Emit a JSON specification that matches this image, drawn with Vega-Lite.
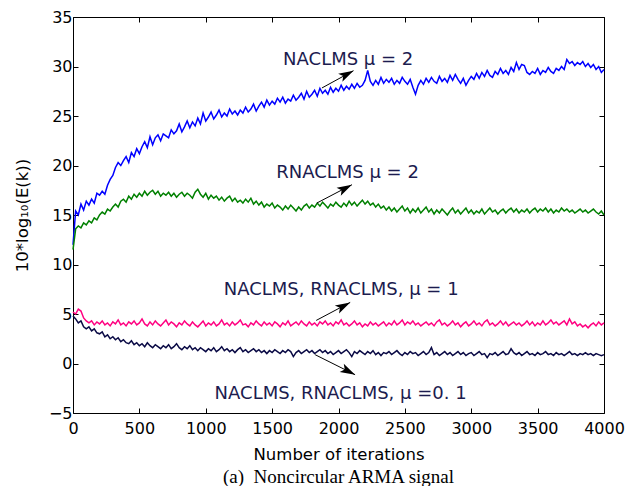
{
  "$schema": "https://vega.github.io/schema/vega-lite/v6.json",
  "width": 531,
  "height": 396,
  "autosize": {"type": "none"},
  "padding": {"left": 73, "top": 17, "right": 24, "bottom": 73},
  "background": "white",
  "config": {
    "view": {"stroke": "black", "strokeWidth": 1},
    "axis": {
      "grid": false,
      "domain": false,
      "tickColor": "black",
      "tickSize": -5,
      "labelFont": "DejaVu Sans",
      "labelFontSize": 16,
      "labelColor": "black",
      "labelFlush": false,
      "labelOverlap": false,
      "format": "d",
      "titleFont": "DejaVu Sans",
      "titleFontSize": 16.5,
      "titleFontWeight": "normal",
      "titleColor": "black"
    }
  },
  "title": {
    "text": "(a)\u00a0 Noncircular ARMA signal",
    "orient": "bottom",
    "anchor": "middle",
    "font": "Liberation Serif",
    "fontSize": 19,
    "fontWeight": "normal",
    "color": "black",
    "offset": 5
  },
  "datasets": {
    "curves": [
      {"k":0,"b":12.0,"g":11.5,"p":5.2,"n":4.8},
      {"k":20,"b":15.4,"g":13.6,"p":5.0,"n":4.5},
      {"k":40,"b":15.0,"g":13.9,"p":5.5,"n":4.1},
      {"k":60,"b":16.1,"g":13.7,"p":5.3,"n":4.3},
      {"k":80,"b":15.5,"g":14.2,"p":4.6,"n":3.7},
      {"k":100,"b":16.4,"g":14.0,"p":4.3,"n":3.5},
      {"k":120,"b":16.0,"g":14.4,"p":4.1,"n":3.7},
      {"k":140,"b":16.6,"g":14.2,"p":4.3,"n":3.3},
      {"k":160,"b":16.2,"g":14.7,"p":3.9,"n":3.5},
      {"k":180,"b":17.2,"g":14.5,"p":4.2,"n":3.1},
      {"k":200,"b":17.0,"g":15.0,"p":4.0,"n":3.0},
      {"k":220,"b":17.4,"g":15.3,"p":4.3,"n":3.2},
      {"k":240,"b":17.1,"g":15.1,"p":3.9,"n":2.7},
      {"k":260,"b":18.0,"g":15.6,"p":4.1,"n":2.9},
      {"k":280,"b":18.6,"g":15.4,"p":3.8,"n":2.5},
      {"k":300,"b":19.0,"g":15.8,"p":4.2,"n":2.7},
      {"k":320,"b":19.8,"g":16.1,"p":4.0,"n":2.4},
      {"k":340,"b":20.3,"g":15.8,"p":4.4,"n":2.6},
      {"k":360,"b":20.0,"g":16.4,"p":3.9,"n":2.2},
      {"k":380,"b":20.5,"g":16.6,"p":4.1,"n":2.4},
      {"k":400,"b":20.9,"g":16.3,"p":3.8,"n":2.1},
      {"k":420,"b":20.3,"g":16.9,"p":4.2,"n":2.0},
      {"k":440,"b":21.3,"g":16.6,"p":4.0,"n":2.3},
      {"k":460,"b":20.9,"g":17.1,"p":4.3,"n":1.9},
      {"k":480,"b":21.7,"g":16.8,"p":3.9,"n":2.1},
      {"k":500,"b":21.2,"g":17.2,"p":4.1,"n":1.8},
      {"k":520,"b":21.9,"g":16.9,"p":4.5,"n":2.0},
      {"k":540,"b":22.4,"g":17.4,"p":4.0,"n":1.7},
      {"k":560,"b":21.8,"g":17.0,"p":3.8,"n":2.1},
      {"k":580,"b":22.9,"g":17.3,"p":4.2,"n":1.8},
      {"k":600,"b":22.1,"g":17.5,"p":3.9,"n":1.6},
      {"k":620,"b":22.8,"g":17.1,"p":4.3,"n":1.9},
      {"k":640,"b":23.1,"g":17.4,"p":4.0,"n":1.7},
      {"k":660,"b":22.5,"g":16.9,"p":3.8,"n":1.5},
      {"k":680,"b":23.2,"g":17.2,"p":4.1,"n":1.8},
      {"k":700,"b":23.0,"g":17.0,"p":4.4,"n":1.6},
      {"k":720,"b":22.8,"g":17.3,"p":3.9,"n":1.9},
      {"k":740,"b":23.6,"g":16.9,"p":4.2,"n":1.5},
      {"k":760,"b":23.2,"g":17.2,"p":4.0,"n":1.7},
      {"k":780,"b":23.5,"g":16.8,"p":3.7,"n":2.0},
      {"k":800,"b":24.2,"g":17.1,"p":4.1,"n":1.6},
      {"k":820,"b":23.4,"g":17.3,"p":3.9,"n":1.4},
      {"k":840,"b":23.9,"g":16.9,"p":4.3,"n":1.7},
      {"k":860,"b":24.5,"g":17.2,"p":4.0,"n":1.5},
      {"k":880,"b":23.8,"g":17.0,"p":3.8,"n":1.8},
      {"k":900,"b":24.4,"g":16.7,"p":4.2,"n":1.4},
      {"k":920,"b":24.0,"g":17.3,"p":3.9,"n":1.6},
      {"k":940,"b":24.8,"g":17.6,"p":3.7,"n":1.3},
      {"k":960,"b":24.2,"g":17.1,"p":4.0,"n":1.6},
      {"k":980,"b":25.3,"g":16.8,"p":4.3,"n":1.4},
      {"k":1000,"b":24.5,"g":17.2,"p":3.8,"n":1.2},
      {"k":1020,"b":24.9,"g":16.6,"p":4.1,"n":1.5},
      {"k":1040,"b":25.4,"g":17.0,"p":3.9,"n":1.3},
      {"k":1060,"b":24.7,"g":16.7,"p":4.2,"n":1.6},
      {"k":1080,"b":25.1,"g":16.9,"p":3.8,"n":1.2},
      {"k":1100,"b":25.6,"g":16.5,"p":4.0,"n":1.4},
      {"k":1120,"b":24.9,"g":16.8,"p":4.4,"n":1.7},
      {"k":1140,"b":25.3,"g":16.4,"p":3.9,"n":1.3},
      {"k":1160,"b":25.0,"g":16.7,"p":4.1,"n":1.5},
      {"k":1180,"b":25.7,"g":16.9,"p":3.8,"n":1.2},
      {"k":1200,"b":25.2,"g":16.4,"p":4.2,"n":1.4},
      {"k":1220,"b":25.5,"g":16.7,"p":3.9,"n":1.1},
      {"k":1240,"b":25.1,"g":16.3,"p":4.1,"n":1.4},
      {"k":1260,"b":25.6,"g":16.5,"p":4.4,"n":1.6},
      {"k":1280,"b":25.3,"g":16.2,"p":3.9,"n":1.2},
      {"k":1300,"b":25.9,"g":16.6,"p":4.0,"n":1.4},
      {"k":1320,"b":25.4,"g":16.3,"p":3.7,"n":1.1},
      {"k":1340,"b":25.7,"g":16.7,"p":4.1,"n":1.3},
      {"k":1360,"b":26.2,"g":16.1,"p":3.9,"n":1.5},
      {"k":1380,"b":25.5,"g":16.4,"p":4.3,"n":1.2},
      {"k":1400,"b":26.0,"g":16.0,"p":4.0,"n":1.4},
      {"k":1420,"b":26.4,"g":16.3,"p":3.8,"n":1.1},
      {"k":1440,"b":25.9,"g":15.8,"p":4.2,"n":1.3},
      {"k":1460,"b":26.6,"g":16.1,"p":3.9,"n":1.0},
      {"k":1480,"b":26.1,"g":15.9,"p":4.1,"n":1.3},
      {"k":1500,"b":26.5,"g":16.2,"p":3.8,"n":1.1},
      {"k":1520,"b":26.2,"g":15.7,"p":4.2,"n":1.4},
      {"k":1540,"b":26.8,"g":16.0,"p":4.0,"n":1.2},
      {"k":1560,"b":26.4,"g":15.8,"p":3.7,"n":1.0},
      {"k":1580,"b":26.9,"g":15.5,"p":4.1,"n":1.3},
      {"k":1600,"b":26.3,"g":15.9,"p":3.9,"n":1.1},
      {"k":1620,"b":26.7,"g":15.6,"p":4.3,"n":1.4},
      {"k":1640,"b":26.5,"g":16.0,"p":3.8,"n":1.2},
      {"k":1660,"b":27.1,"g":15.7,"p":4.0,"n":0.7},
      {"k":1680,"b":26.6,"g":15.4,"p":4.2,"n":1.1},
      {"k":1700,"b":26.9,"g":15.8,"p":3.9,"n":1.3},
      {"k":1720,"b":27.3,"g":15.5,"p":4.3,"n":1.0},
      {"k":1740,"b":26.7,"g":15.9,"p":4.0,"n":1.2},
      {"k":1760,"b":27.5,"g":16.1,"p":3.8,"n":1.4},
      {"k":1780,"b":26.9,"g":15.7,"p":4.2,"n":1.1},
      {"k":1800,"b":27.2,"g":16.0,"p":3.9,"n":1.3},
      {"k":1820,"b":27.6,"g":15.8,"p":4.1,"n":1.0},
      {"k":1840,"b":27.0,"g":16.2,"p":3.8,"n":1.2},
      {"k":1860,"b":27.8,"g":15.9,"p":4.2,"n":1.4},
      {"k":1880,"b":27.3,"g":16.3,"p":4.0,"n":1.1},
      {"k":1900,"b":27.6,"g":16.0,"p":4.3,"n":1.3},
      {"k":1920,"b":27.2,"g":15.7,"p":3.9,"n":1.0},
      {"k":1940,"b":27.9,"g":16.1,"p":4.1,"n":1.2},
      {"k":1960,"b":27.4,"g":15.9,"p":3.8,"n":0.9},
      {"k":1980,"b":27.8,"g":16.3,"p":4.2,"n":1.1},
      {"k":2000,"b":27.5,"g":16.0,"p":4.0,"n":1.3},
      {"k":2020,"b":28.1,"g":15.8,"p":4.4,"n":1.0},
      {"k":2040,"b":27.6,"g":16.2,"p":3.9,"n":1.2},
      {"k":2060,"b":28.0,"g":15.9,"p":4.1,"n":1.4},
      {"k":2080,"b":27.7,"g":16.4,"p":3.8,"n":1.1},
      {"k":2100,"b":28.2,"g":16.0,"p":4.0,"n":0.7},
      {"k":2120,"b":27.8,"g":16.3,"p":4.3,"n":1.2},
      {"k":2140,"b":28.3,"g":15.9,"p":3.9,"n":1.0},
      {"k":2160,"b":27.9,"g":16.2,"p":4.1,"n":1.3},
      {"k":2180,"b":28.1,"g":16.5,"p":3.7,"n":1.1},
      {"k":2200,"b":28.6,"g":16.1,"p":4.0,"n":0.9},
      {"k":2220,"b":29.6,"g":16.4,"p":3.8,"n":1.2},
      {"k":2240,"b":28.5,"g":16.0,"p":4.2,"n":1.0},
      {"k":2260,"b":28.1,"g":16.2,"p":3.9,"n":1.3},
      {"k":2280,"b":28.6,"g":15.8,"p":4.1,"n":0.9},
      {"k":2300,"b":28.2,"g":16.1,"p":3.8,"n":1.1},
      {"k":2320,"b":28.9,"g":15.7,"p":4.0,"n":0.8},
      {"k":2340,"b":28.3,"g":15.9,"p":4.2,"n":1.1},
      {"k":2360,"b":28.7,"g":15.5,"p":3.8,"n":1.0},
      {"k":2380,"b":28.4,"g":15.8,"p":4.1,"n":1.2},
      {"k":2400,"b":28.8,"g":15.4,"p":3.9,"n":0.9},
      {"k":2420,"b":28.2,"g":15.7,"p":4.3,"n":1.1},
      {"k":2440,"b":28.6,"g":15.3,"p":3.9,"n":1.3},
      {"k":2460,"b":28.3,"g":15.6,"p":4.1,"n":1.0},
      {"k":2480,"b":28.9,"g":15.9,"p":4.4,"n":0.8},
      {"k":2500,"b":28.5,"g":15.4,"p":3.9,"n":1.1},
      {"k":2520,"b":28.2,"g":15.7,"p":4.2,"n":0.9},
      {"k":2540,"b":28.7,"g":15.2,"p":4.0,"n":1.2},
      {"k":2560,"b":27.9,"g":15.6,"p":4.3,"n":1.0},
      {"k":2580,"b":27.2,"g":15.3,"p":3.9,"n":1.1},
      {"k":2600,"b":28.1,"g":15.7,"p":4.1,"n":0.8},
      {"k":2620,"b":28.6,"g":15.2,"p":3.8,"n":1.0},
      {"k":2640,"b":28.2,"g":15.5,"p":4.0,"n":1.2},
      {"k":2660,"b":28.8,"g":15.8,"p":4.2,"n":0.9},
      {"k":2680,"b":28.4,"g":15.3,"p":3.9,"n":1.1},
      {"k":2700,"b":28.9,"g":15.6,"p":4.1,"n":1.6},
      {"k":2720,"b":28.5,"g":15.1,"p":3.8,"n":0.9},
      {"k":2740,"b":28.3,"g":15.5,"p":4.2,"n":1.1},
      {"k":2760,"b":29.0,"g":15.2,"p":4.4,"n":0.8},
      {"k":2780,"b":28.5,"g":15.6,"p":3.9,"n":1.0},
      {"k":2800,"b":28.8,"g":15.3,"p":4.1,"n":1.2},
      {"k":2820,"b":28.4,"g":15.0,"p":3.8,"n":0.9},
      {"k":2840,"b":29.1,"g":15.4,"p":4.0,"n":1.1},
      {"k":2860,"b":28.6,"g":15.7,"p":4.3,"n":0.8},
      {"k":2880,"b":29.2,"g":15.2,"p":3.9,"n":1.0},
      {"k":2900,"b":28.7,"g":15.5,"p":4.1,"n":1.2},
      {"k":2920,"b":28.3,"g":15.1,"p":3.7,"n":0.9},
      {"k":2940,"b":28.8,"g":15.4,"p":4.0,"n":1.1},
      {"k":2960,"b":28.1,"g":15.7,"p":4.2,"n":0.8},
      {"k":2980,"b":28.6,"g":15.2,"p":3.8,"n":1.0},
      {"k":3000,"b":29.0,"g":15.5,"p":4.0,"n":1.1},
      {"k":3020,"b":28.7,"g":15.1,"p":4.3,"n":0.8},
      {"k":3040,"b":29.3,"g":15.4,"p":3.9,"n":1.0},
      {"k":3060,"b":28.8,"g":15.2,"p":4.1,"n":1.2},
      {"k":3080,"b":29.4,"g":15.6,"p":3.8,"n":0.9},
      {"k":3100,"b":29.0,"g":15.1,"p":4.2,"n":1.0},
      {"k":3120,"b":29.6,"g":15.4,"p":4.4,"n":0.6},
      {"k":3140,"b":29.1,"g":15.7,"p":3.9,"n":1.0},
      {"k":3160,"b":28.9,"g":15.3,"p":4.1,"n":0.9},
      {"k":3180,"b":29.5,"g":15.5,"p":3.8,"n":1.1},
      {"k":3200,"b":29.2,"g":15.1,"p":4.0,"n":0.8},
      {"k":3220,"b":29.8,"g":15.4,"p":4.3,"n":1.0},
      {"k":3240,"b":29.3,"g":15.6,"p":3.9,"n":1.2},
      {"k":3260,"b":29.6,"g":15.2,"p":4.2,"n":0.9},
      {"k":3280,"b":29.2,"g":15.5,"p":3.8,"n":1.0},
      {"k":3300,"b":29.9,"g":15.7,"p":4.0,"n":1.5},
      {"k":3320,"b":29.5,"g":15.3,"p":4.2,"n":1.1},
      {"k":3340,"b":30.4,"g":15.6,"p":3.9,"n":0.9},
      {"k":3360,"b":29.7,"g":15.2,"p":4.1,"n":1.1},
      {"k":3380,"b":30.2,"g":15.5,"p":3.8,"n":0.8},
      {"k":3400,"b":30.1,"g":15.3,"p":4.0,"n":1.0},
      {"k":3420,"b":29.4,"g":15.6,"p":4.3,"n":1.2},
      {"k":3440,"b":29.2,"g":15.2,"p":3.9,"n":0.9},
      {"k":3460,"b":29.5,"g":15.5,"p":4.2,"n":1.0},
      {"k":3480,"b":29.3,"g":15.7,"p":3.8,"n":0.8},
      {"k":3500,"b":29.8,"g":15.3,"p":4.1,"n":1.1},
      {"k":3520,"b":29.2,"g":15.6,"p":3.9,"n":0.9},
      {"k":3540,"b":29.6,"g":15.4,"p":4.3,"n":1.0},
      {"k":3560,"b":29.4,"g":15.7,"p":3.9,"n":1.2},
      {"k":3580,"b":29.9,"g":15.3,"p":4.1,"n":0.9},
      {"k":3600,"b":29.5,"g":15.6,"p":4.4,"n":1.0},
      {"k":3620,"b":29.3,"g":15.2,"p":4.0,"n":0.8},
      {"k":3640,"b":29.8,"g":15.5,"p":4.2,"n":1.1},
      {"k":3660,"b":29.6,"g":15.3,"p":3.9,"n":0.9},
      {"k":3680,"b":30.0,"g":15.7,"p":4.1,"n":1.0},
      {"k":3700,"b":29.7,"g":15.4,"p":4.3,"n":0.8},
      {"k":3720,"b":30.7,"g":15.6,"p":3.9,"n":1.0},
      {"k":3740,"b":30.3,"g":15.3,"p":4.5,"n":1.2},
      {"k":3760,"b":30.5,"g":15.5,"p":4.0,"n":0.9},
      {"k":3780,"b":30.1,"g":15.2,"p":4.2,"n":1.0},
      {"k":3800,"b":30.4,"g":15.4,"p":3.8,"n":0.8},
      {"k":3820,"b":30.2,"g":15.6,"p":4.0,"n":1.0},
      {"k":3840,"b":30.5,"g":15.3,"p":3.7,"n":0.9},
      {"k":3860,"b":30.0,"g":15.5,"p":3.9,"n":1.1},
      {"k":3880,"b":30.3,"g":15.2,"p":3.6,"n":0.9},
      {"k":3900,"b":29.9,"g":15.4,"p":3.9,"n":1.0},
      {"k":3920,"b":30.2,"g":15.6,"p":4.1,"n":0.8},
      {"k":3940,"b":29.7,"g":15.3,"p":3.8,"n":1.0},
      {"k":3960,"b":30.0,"g":15.1,"p":4.2,"n":0.9},
      {"k":3980,"b":29.4,"g":15.4,"p":3.9,"n":0.8},
      {"k":4000,"b":29.7,"g":15.0,"p":4.1,"n":0.9}
    ],
    "arrows": [
      {"ax":1875,"ay":27.83,"bx":2113,"by":29.58,"dir":"up"},
      {"ax":1837,"ay":16.21,"bx":2101,"by":18.06,"dir":"up"},
      {"ax":1832,"ay":4.35,"bx":2088,"by":6.17,"dir":"up"},
      {"ax":1824,"ay":0.89,"bx":2125,"by":-1.13,"dir":"down"}
    ],
    "notes": [
      {"x":2073,"y":30.69,"label":"NACLMS μ = 2"},
      {"x":2068,"y":19.24,"label":"RNACLMS μ = 2"},
      {"x":2020,"y":7.46,"label":"NACLMS, RNACLMS, μ = 1"},
      {"x":2016,"y":-3.05,"label":"NACLMS, RNACLMS, μ =0. 1"}
    ]
  },
  "layer": [
    {
      "data": {"name": "curves"},
      "transform": [{"fold": ["b", "g", "p", "n"], "as": ["s", "v"]}],
      "mark": {"type": "line", "strokeWidth": 1.5},
      "encoding": {
        "x": {
          "field": "k", "type": "quantitative",
          "scale": {"domain": [0, 4000], "nice": false, "zero": false},
          "axis": {"orient": "bottom", "values": [0,500,1000,1500,2000,2500,3000,3500,4000], "title": "Number of iterations", "labelPadding": 12, "titlePadding": 10}
        },
        "y": {
          "field": "v", "type": "quantitative",
          "scale": {"domain": [-5, 35], "nice": false, "zero": false},
          "axis": {"orient": "left", "values": [-5,0,5,10,15,20,25,30,35], "title": "10*log₁₀(E(k))", "labelPadding": 6, "titlePadding": 18}
        },
        "color": {
          "field": "s", "type": "nominal",
          "scale": {"domain": ["b", "g", "p", "n"], "range": ["#0000ff", "#008000", "#ff0080", "#0a0a45"]},
          "legend": null
        }
      }
    },
    {
      "data": {"name": "arrows"},
      "mark": {"type": "rule", "color": "black", "strokeWidth": 1},
      "encoding": {
        "x": {"field": "ax", "type": "quantitative", "axis": {"orient": "top", "values": [0,500,1000,1500,2000,2500,3000,3500,4000], "labels": false, "title": null}},
        "y": {"field": "ay", "type": "quantitative", "axis": {"orient": "right", "values": [-5,0,5,10,15,20,25,30,35], "labels": false, "title": null}},
        "x2": {"field": "bx"},
        "y2": {"field": "by"}
      }
    },
    {
      "data": {"name": "arrows"},
      "mark": {"type": "point", "shape": "M0,0L0.6,2L0,1.55L-0.6,2Z", "filled": true, "color": "black", "opacity": 1, "size": 225, "strokeWidth": 0},
      "encoding": {
        "x": {"field": "bx", "type": "quantitative", "axis": null},
        "y": {"field": "by", "type": "quantitative", "axis": null},
        "angle": {"field": "dir", "type": "nominal", "scale": {"domain": ["up", "down"], "range": [62, 117]}, "legend": null}
      }
    },
    {
      "data": {"name": "notes"},
      "mark": {"type": "text", "font": "DejaVu Sans", "fontSize": 18, "color": "#1c1c4f", "align": "center", "baseline": "middle"},
      "encoding": {
        "x": {"field": "x", "type": "quantitative", "axis": null},
        "y": {"field": "y", "type": "quantitative", "axis": null},
        "text": {"field": "label"}
      }
    }
  ],
  "resolve": {"axis": {"x": "independent", "y": "independent"}}
}
